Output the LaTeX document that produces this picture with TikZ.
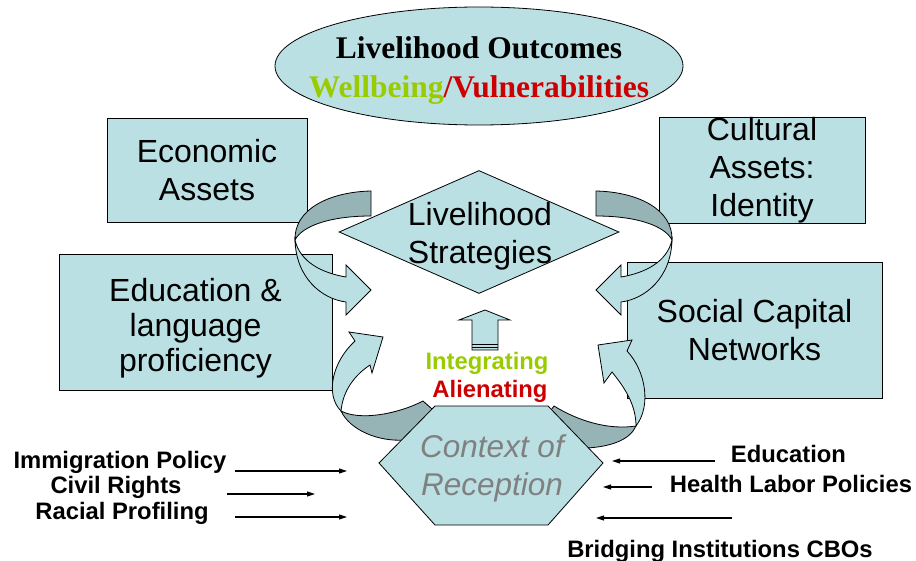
\documentclass[tikz,border=0pt]{standalone}
\usepackage{fontspec}
\setmainfont{Liberation Sans}
\newfontfamily\timesfont{Liberation Serif}
\usetikzlibrary{arrows.meta,shapes.geometric}
\definecolor{boxfill}{HTML}{BBE0E3}
\definecolor{ribbon}{HTML}{96B3B6}
\definecolor{goodgreen}{HTML}{99CC00}
\definecolor{badred}{HTML}{CC0000}
\definecolor{ctxgray}{HTML}{808080}
\tikzset{
    %Define standard arrow tip
    >={Triangle[length=8pt,width=5pt]},
    %Define style for asset boxes
    asset/.style={
           rectangle,
           draw=black, line width=0.8pt,
           fill=boxfill,
           inner sep=0pt,
           align=center,
           font=\fontsize{32}{38}\selectfont},
    bigtext/.style={
           align=center,
           inner sep=0pt,
           font=\fontsize{32}{38}\selectfont},
    factor/.style={
           anchor=base,
           inner sep=0pt,
           font=\bfseries\fontsize{23.8}{28}\selectfont},
    % Define arrow styles
    feed/.style={->, line width=1.1pt},
    ribbonfront/.style={fill=boxfill, draw=black, line width=0.8pt},
    ribbonback/.style={fill=ribbon, draw=black, line width=0.8pt}
}
\begin{document}
\begin{tikzpicture}[x=1pt,y=-1pt]
\useasboundingbox (0,0) rectangle (916,561);

 %nodes
\node[ellipse, draw=black, line width=0.8pt, fill=boxfill, minimum width=408pt, minimum height=118pt, inner sep=0pt] (outcome) at (479,66) {};
\node[bigtext, font=\timesfont\bfseries\fontsize{31.5}{39}\selectfont] (outtext) at ([yshift=-4.3pt]outcome.center)
    {Livelihood Outcomes\\\textcolor{goodgreen}{Wellbeing}\textcolor{badred}{/Vulnerabilities}};

\node[asset, minimum width=200pt, minimum height=104pt] (econ) at (207,170) {Economic\\Assets};
\node[asset, minimum width=206pt, minimum height=104pt] (cult) at (762,170) {Cultural\\Assets:\\ Identity};
\node[asset, minimum width=273pt, minimum height=136pt, font=\fontsize{32}{35}\selectfont] (edu) at (195.5,322)
    {\rule{0pt}{36pt}Education \&\\language\\proficiency};
\node[asset, minimum width=255pt, minimum height=136pt] (social) at (754.5,330) {Social Capital\\Networks};

\node[diamond, draw=black, line width=0.8pt, fill=boxfill, minimum width=280pt, minimum height=123pt, inner sep=0pt] (strat) at (479,232) {};
\node[bigtext] (strattext) at ([yshift=-4pt]480,232) {Livelihood\\Strategies};

 %curved arrows, upper left
\draw[ribbonback] (371,191) .. controls (328,192) and (294,210) .. (295,240)
    .. controls (302,226) and (330,216) .. (371,216) -- cycle;
\draw[ribbonfront] (295,240) .. controls (296,278) and (322,299) .. (346,302) -- (346,315) -- (371,290)
    -- (346,265) -- (346,277) .. controls (322,273) and (300,262) .. (295,240) -- cycle;
 %upper right
\draw[ribbonback] (596,191) .. controls (639,192) and (673,210) .. (672,240)
    .. controls (665,226) and (637,216) .. (596,216) -- cycle;
\draw[ribbonfront] (672,240) .. controls (671,278) and (645,299) .. (621,302) -- (621,315) -- (596,290)
    -- (621,265) -- (621,277) .. controls (645,273) and (667,262) .. (672,240) -- cycle;
 %lower left
\draw[ribbonback] (423,401) .. controls (398,414) and (360,421) .. (341,411)
    .. controls (350,430) and (378,442) .. (405,440) -- (432,409) -- cycle;
\draw[ribbonfront] (341,411) .. controls (343,390) and (355,375) .. (370,365) -- (372,373) -- (383,337)
    -- (349,332) -- (355,341) .. controls (332,362) and (325,395) .. (341,411) -- cycle;
 %lower right
\draw[ribbonback] (554,406) .. controls (580,422) and (610,430) .. (636,426)
    .. controls (630,440) and (610,447) .. (586,448) -- (551,410) -- cycle;
\draw[ribbonfront] (636,426) .. controls (652,405) and (645,370) .. (627,351) -- (632,340) -- (598,345)
    -- (604,383) -- (612,372) .. controls (625,388) and (636,405) .. (636,426) -- cycle;

 %up arrow
\draw[ribbonfront] (485,310) -- (510,320) -- (498,320) -- (498,350) -- (472,350) -- (472,320) -- (459,320) -- cycle;
\draw[line width=0.8pt] (472,344) -- (498,344);
\draw[line width=0.8pt] (472,347) -- (498,347);

\node[factor, text=goodgreen] (integ) at (487,370) {Integrating};
\node[factor, text=badred] (alien) at (490,398) {Alienating};

 %context
\draw[ribbonfront] (435,406) -- (548,406) -- (603,463) -- (548,525) -- (435,525) -- (379,463) -- cycle;
\node[bigtext, font=\itshape\fontsize{31.5}{38}\selectfont, text=ctxgray] (ctx) at (492,468) {Context of\\Reception};

 %factors left
\node[factor] (imm) at (120,468) {Immigration Policy};
\node[factor] (civil) at (116,493) {Civil Rights};
\node[factor] (racial) at (122,519) {Racial Profiling};
\coordinate (immA) at (235,471);
\coordinate (immB) at (347,471);
\coordinate (civA) at (227,494);
\coordinate (civB) at (315,494);
\coordinate (racA) at (235,517);
\coordinate (racB) at (347,517);

 %factors right
\node[factor] (educ) at (788.5,462) {Education};
\node[factor] (health) at (791,492) {Health Labor Policies};
\node[factor] (bridge) at (720,557) {Bridging Institutions CBOs};
\coordinate (eduA) at (715,461);
\coordinate (eduB) at (612,461);
\coordinate (heaA) at (652,487);
\coordinate (heaB) at (603,487);
\coordinate (briA) at (732,518);
\coordinate (briB) at (596,518);

\draw[feed] (immA) -- (immB);
\draw[feed] (civA) -- (civB);
\draw[feed] (racA) -- (racB);
\draw[feed] (eduA) -- (eduB);
\draw[feed] (heaA) -- (heaB);
\draw[feed] (briA) -- (briB);
\end{tikzpicture}
\end{document}
